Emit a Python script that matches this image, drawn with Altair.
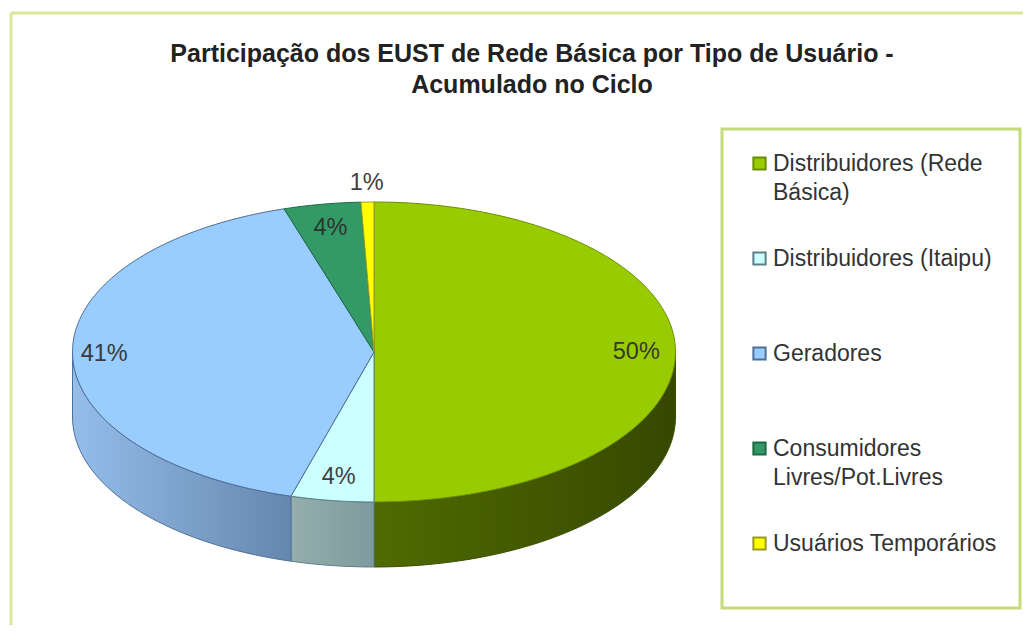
import math
import altair as alt
import pandas as pd

categories = ["Distribuidores (Rede Básica)", "Distribuidores (Itaipu)", "Geradores",
              "Consumidores Livres/Pot.Livres", "Usuários Temporários"]
values = [50.0, 4.44, 40.74, 4.13, 0.69]
labels = ["50%", "4%", "41%", "4%", "1%"]
top_colors = ["#99cc00", "#ccffff", "#99ccff", "#339966", "#ffff00"]
edge_colors = ["#6b8e00", "#5d7f86", "#4f6f96", "#1f6a45", "#9a9a20"]
label_radius = [0.87, 0.84, 0.895, 0.84, 1.13]
side_gradients = [("#4f6b00", "#364800"), ("#93aeac", "#7d9a9e"), ("#94bdea", "#6587ae")]

W, H = 1012, 612
CX, CY, RX, RY, DEPTH = 363, 339, 301.5, 150, 65
FRAME = "#d8e89a"


def point(t, drop=0.0):
    return CX + RX * math.sin(t), CY - RY * math.cos(t) + drop


rows, side_rows, text_rows = [], [], []
start = 0.0
for i, (cat, v) in enumerate(zip(categories, values)):
    t0 = start / 100 * 2 * math.pi
    t1 = (start + v) / 100 * 2 * math.pi
    n = max(4, int(v * 3))
    ts = [t0 + (t1 - t0) * k / n for k in range(n + 1)]
    poly = [(CX, CY)] + [point(t) for t in ts] + [(CX, CY)]
    for k, (x, y) in enumerate(poly):
        rows.append({"cat": cat, "x": x, "y": y, "o": k})
    tm = (t0 + t1) / 2
    lx, ly = CX + (point(tm)[0] - CX) * label_radius[i], CY + (point(tm)[1] - CY) * label_radius[i]
    text_rows.append({"cat": cat, "x": lx, "y": ly, "label": labels[i]})
    a0, a1 = max(t0, math.pi / 2), min(t1, 3 * math.pi / 2)
    if a1 > a0:
        m = 40 if a1 - a0 > 0.6 else 8
        ws = [a0 + (a1 - a0) * k / m for k in range(m + 1)]
        wall = [point(t) for t in ws] + [point(t, DEPTH) for t in reversed(ws)]
        wall.append(wall[0])
        for k, (x, y) in enumerate(wall):
            side_rows.append({"cat": cat, "x": x, "y": y, "o": k})
    start += v

df, side, txt = pd.DataFrame(rows), pd.DataFrame(side_rows), pd.DataFrame(text_rows)

x_enc = alt.X("x:Q", scale=alt.Scale(domain=[0, W], range=[0, W]), axis=None)
y_enc = alt.Y("y:Q", scale=alt.Scale(domain=[0, H], range=[0, H]), axis=None)

frame_top = alt.Chart(pd.DataFrame({"k": [0]})).mark_rule(color=FRAME, strokeWidth=3).encode(
    x=alt.value(0), x2=alt.value(W), y=alt.value(0))
frame_left = alt.Chart(pd.DataFrame({"k": [0]})).mark_rule(color=FRAME, strokeWidth=3).encode(
    x=alt.value(0), y=alt.value(0), y2=alt.value(H))

walls = []
for i, (a, b) in enumerate(side_gradients):
    g = alt.Gradient(gradient="linear", x1=0, x2=1, y1=0, y2=0,
                     stops=[alt.GradientStop(offset=0, color=a), alt.GradientStop(offset=1, color=b)])
    walls.append(
        alt.Chart(side[side["cat"] == categories[i]]).mark_line(
            fill=g, stroke=edge_colors[i] if i else "#3a5000", strokeWidth=1
        ).encode(x=x_enc, y=y_enc, order="o:Q")
    )

tops = alt.Chart(df).mark_line(strokeWidth=1, strokeJoin="round").encode(
    x=x_enc, y=y_enc, order="o:Q",
    fill=alt.Fill("cat:N", sort=categories,
                  scale=alt.Scale(domain=categories, range=top_colors),
                  legend=alt.Legend(
                      orient="none", legendX=711, legendY=116, title=None,
                      symbolType="square", symbolSize=150, symbolStrokeColor="#333333",
                      symbolStrokeWidth=2, symbolOpacity=1, symbolOffset=3,
                      labelFont="Liberation Sans", labelFontSize=23, labelColor="#333333",
                      labelLimit=300, labelOffset=2,
                      labelExpr="datum.label == 'Distribuidores (Rede Básica)' ? ['Distribuidores (Rede', 'Básica)'] : datum.label == 'Consumidores Livres/Pot.Livres' ? ['Consumidores', 'Livres/Pot.Livres'] : [datum.label, ' ']",
                      rowPadding=42, padding=23,
                      strokeColor="#c5db7b", fillColor="#ffffff")),
    stroke=alt.Stroke("cat:N", sort=categories,
                      scale=alt.Scale(domain=categories, range=edge_colors), legend=None),
)

text = alt.Chart(txt).mark_text(font="Liberation Sans", fontSize=23.5, color="#2b2b2b", opacity=0.9).encode(
    x=x_enc, y=y_enc, text="label:N"
)

chart = alt.layer(frame_top, frame_left, *walls, tops, text).properties(
    width=W, height=H,
    padding={"left": 3, "top": 5, "right": 0, "bottom": 0},
    autosize=alt.AutoSizeParams(type="none"),
    background="#ffffff",
    title=alt.TitleParams(
        text=["Participação dos EUST de Rede Básica por Tipo de Usuário -", "Acumulado no Ciclo"],
        font="Liberation Sans", fontSize=25, fontWeight="bold", color="#222222",
        anchor="middle", dy=86, dx=15, lineHeight=31, offset=0),
).configure_view(stroke=None).configure_legend(strokeWidth=3)
chart.config.style = {"guide-label": {"lineHeight": 29}}

chart.save("out.html", embed_options={"renderer": "svg", "actions": False})
